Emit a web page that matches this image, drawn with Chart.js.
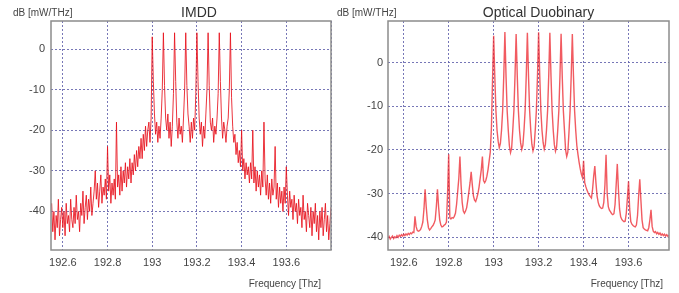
<!DOCTYPE html>
<html>
<head>
<meta charset="utf-8">
<script src="https://cdn.jsdelivr.net/npm/chart.js@4.4.0/dist/chart.umd.min.js"></script>
<style>
  html, body { margin: 0; padding: 0; background: #fff; }
  .panel { position: absolute; top: 0; }
  #p1 { left: 0; }
  #p2 { left: 320px; }
</style>
</head>
<body>
<div class="panel" id="p1"><canvas id="imdd" width="340" height="293"></canvas></div>
<div class="panel" id="p2"><canvas id="odb" width="359" height="293"></canvas></div>
<script>
// frequency grid of the sampled spectra (THz), one sample every 5 GHz
const imddStart = 192.55;
const odbStart = 192.53;
const freqStep = 0.005;

// IMDD spectrum, dB [mW/THz]
const imddDb = [
  -38, -45, -40, -47, -41, -44, -37, -46, -42, -39,
  -44, -40, -46, -38, -43, -41, -45, -37, -42, -44,
  -39, -43, -36, -42, -40, -45, -38, -41, -35, -43,
  -39, -36, -42, -37, -40, -34, -41, -38, -35, -30,
  -37, -33, -39, -35, -31, -38, -34, -36, -32, -37,
  -24, -35, -31, -38, -33, -36, -32, -37, -18, -34,
  -31, -36, -29, -35, -30, -33, -28, -34, -29, -32,
  -27, -33, -28, -31, -26, -30, -25, -29, -24, -27,
  -22, -27, -21, -25, -19, -24, -20, -18, -23, -17,
  3, -8, -16, -21, -18, -23, -19, -22, -17, -10,
  4, -9, -17, -20, -16, -22, -18, -24, -19, -11,
  4, -8, -18, -22, -17, -21, -19, -23, -17, -10,
  4, -9, -16, -19, -23, -18, -22, -17, -20, -11,
  4, -8, -17, -21, -18, -24, -19, -22, -16, -10,
  4, -9, -18, -20, -17, -23, -19, -21, -17, -11,
  4, -8, -17, -22, -18, -20, -23, -19, -17, -10,
  4, -12, -19, -23, -21, -26, -23, -28, -25, -29,
  -20, -30, -27, -32, -28, -31, -29, -33, -28, -32,
  -20, -33, -29, -35, -30, -34, -31, -36, -30, -34,
  -18, -32, -36, -31, -37, -33, -38, -32, -36, -34,
  -24, -37, -33, -39, -34, -38, -35, -40, -34, -38,
  -29, -36, -41, -35, -39, -37, -42, -36, -40, -38,
  -43, -37, -41, -39, -44, -36, -42, -40, -45, -38,
  -41, -44, -39, -46, -40, -43, -38, -45, -41, -47,
  -40, -44, -39, -46, -42, -38, -45, -41, -47, -43, -39
];

// Optical duobinary spectrum, dB [mW/THz]
const odbDb = [
  -40.2, -39.8, -40.4, -40.0, -39.7, -40.3, -39.9, -40.1, -39.6, -40.0,
  -39.5, -39.8, -39.4, -39.7, -39.3, -39.6, -39.2, -39.5, -39.1, -39.4,
  -39.0, -39.2, -38.8, -38.9, -35.2, -37.5, -38.4, -38.6, -38.5, -38.2,
  -37.5, -36.5, -33.5, -29.0, -33, -36, -37.8, -38.3, -38.0, -37.6,
  -37.3, -36.8, -36, -33, -29.0, -33, -36, -37.2, -37.6, -37.5,
  -37.2, -37.0, -36.5, -30, -21.0, -35.5, -35.8, -35.5, -35.6, -35.2,
  -34.5, -32.5, -29.5, -26.5, -21.5, -28, -32, -34, -34.5, -34,
  -33.2, -31.5, -29.5, -27.5, -25, -28, -30.5, -31.5, -31.8, -31,
  -30, -28.5, -26.5, -24.5, -21.5, -27, -27.5, -27, -26, -24.5,
  -22.5, -20.5, -15, -4,
  6.1, -3, -11, -15.5, -18, -19.5, -18.5, -15.5, -11, -3,
  7.0, -3, -11, -15.5, -19.1, -20.6, -19.6, -15.5, -11, -3,
  6.5, -3, -11, -15.5, -18.4, -19.9, -18.9, -15.5, -11, -3,
  6.8, -3, -11, -15.5, -18.7, -20.2, -19.2, -15.5, -11, -3,
  6.9, -3, -11, -15.5, -18.3, -19.8, -18.8, -15.5, -11, -3,
  6.8, -3, -11, -15.5, -18.8, -20.3, -19.3, -15.5, -11, -3,
  6.6, -3, -11, -15.5, -20, -21.5, -20.5, -16, -11, -3,
  6.5, -3, -11, -15.5, -19, -21, -22.8, -24.3, -25.5, -26.3,
  -22.5, -27.5, -28.4, -29.2, -29.8, -30.3, -30.7, -31, -29, -26,
  -23.7, -27.5, -30.5, -32, -32.8, -33.2, -33.4, -33.3, -32, -28,
  -21.1, -30, -33, -33.8, -34.2, -34.6, -34.8, -34.6, -32.5, -28,
  -23.2, -29, -33.5, -35.3, -35.9, -36.2, -36.4, -36.3, -34.5, -31,
  -27.2, -33.5, -36.4, -37, -37.3, -37.5, -37.6, -37.2, -35, -30.5,
  -26.7, -31.5, -36, -37.8, -38.1, -38.3, -38.4, -38.5, -37.8, -36,
  -33.7, -37.5, -38.6, -38.9, -38.7, -39.2, -38.9, -39.3, -39.0, -39.5,
  -39.2, -39.6, -39.3, -39.7, -39.4, -39.8, -39.5
];

const xTicks = [192.6, 192.8, 193, 193.2, 193.4, 193.6, 193.8];
const yTicks = [-40, -30, -20, -10, 0];

const fuente = "'Liberation Sans', Arial, sans-serif";
const fuenteTicks = "'Liberation Sans Narrow', 'Liberation Sans', Arial, sans-serif";

// frame around the plot + the free texts (title, unit, x label)
const marco = {
  id: 'marco',
  afterDatasetsDraw(chart) {
    const { ctx, chartArea: a } = chart;
    ctx.save();
    ctx.strokeStyle = '#8c8c8c';
    ctx.lineWidth = 1.5;
    ctx.strokeRect(a.left, a.top, a.right - a.left, a.bottom - a.top);
    ctx.restore();
  },
  afterDraw(chart, args, o) {
    const ctx = chart.ctx;
    ctx.save();
    ctx.textBaseline = 'alphabetic';
    ctx.fillStyle = '#444';
    ctx.font = '10px ' + fuente;
    ctx.textAlign = 'left';
    ctx.fillText('dB [mW/THz]', o.unitX, 16);
    ctx.textAlign = 'right';
    ctx.fillText('Frequency [Thz]', o.freqX, 287);
    ctx.fillStyle = '#333';
    ctx.font = '14px ' + fuente;
    ctx.textAlign = 'center';
    ctx.fillText(o.titulo, o.tituloX, 16.5);
    ctx.restore();
  }
};

function puntos(inicio, valores) {
  return valores.map((v, i) => ({ x: inicio + i * freqStep, y: v }));
}

function crearEspectro(id, cfg) {
  const ctx = document.getElementById(id).getContext('2d');
  const ticksX = xTicks.filter(v => v <= cfg.xMax + 1e-9);
  return new Chart(ctx, {
    type: 'line',
    data: {
      datasets: [{
        data: puntos(cfg.inicio, cfg.valores),
        borderColor: cfg.color,
        borderWidth: cfg.ancho,
        pointRadius: 0,
        tension: 0
      }]
    },
    options: {
      responsive: false,
      animation: false,
      events: [],
      layout: { padding: { top: 21, right: cfg.derecha, left: 0, bottom: 0 } },
      plugins: {
        legend: { display: false },
        tooltip: { enabled: false },
        marco: { titulo: cfg.titulo, tituloX: cfg.tituloX, unitX: cfg.unitX, freqX: cfg.freqX }
      },
      scales: {
        x: {
          type: 'linear',
          min: cfg.xMin,
          max: cfg.xMax,
          afterBuildTicks: s => { s.ticks = ticksX.map(v => ({ value: v })); },
          afterFit: s => { s.height = 43; },
          grid: { color: 'rgba(95,95,170,0.85)', lineWidth: 1, drawTicks: false },
          border: { display: false, dash: [2, 2] },
          ticks: {
            padding: 6,
            maxRotation: 0,
            autoSkip: false,
            color: '#444',
            font: { family: fuenteTicks, size: 11 },
            callback: v => (v > 193.7 ? '' : String(+v.toFixed(1)))
          }
        },
        y: {
          min: cfg.yMin,
          max: cfg.yMax,
          afterBuildTicks: s => { s.ticks = yTicks.map(v => ({ value: v })); },
          afterFit: s => { s.width = cfg.ancho_y; },
          grid: { color: 'rgba(95,95,170,0.85)', lineWidth: 1, drawTicks: false },
          border: { display: false, dash: [2, 2] },
          ticks: {
            padding: cfg.padY,
            color: '#444',
            font: { family: fuenteTicks, size: 11 },
            callback: v => String(v)
          }
        }
      }
    },
    plugins: [marco]
  });
}

crearEspectro('imdd', {
  inicio: imddStart, valores: imddDb,
  color: 'rgba(232,18,28,0.85)', ancho: 1,
  xMin: 192.547, xMax: 193.8, yMin: -49.5, yMax: 6.9,
  derecha: 9, ancho_y: 51, padY: 6,
  titulo: 'IMDD', tituloX: 199, unitX: 13, freqX: 321
});

crearEspectro('odb', {
  inicio: odbStart, valores: odbDb,
  color: 'rgba(236,36,44,0.75)', ancho: 1.4,
  xMin: 192.53, xMax: 193.78, yMin: -42.9, yMax: 9.5,
  derecha: 10, ancho_y: 68, padY: 5,
  titulo: 'Optical Duobinary', tituloX: 218.5, unitX: 17, freqX: 343
});
</script>
</body>
</html>
